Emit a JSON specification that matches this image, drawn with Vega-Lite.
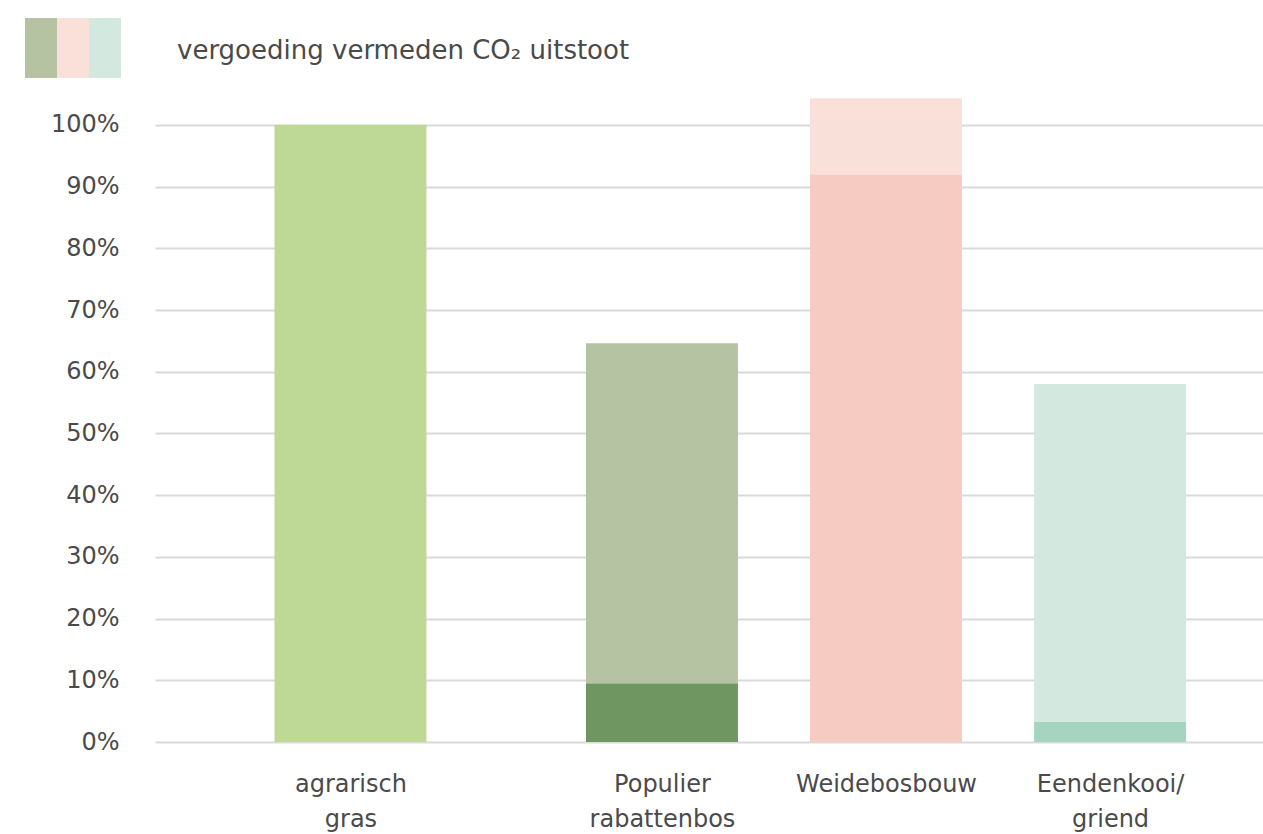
{
  "$schema": "https://vega.github.io/schema/vega-lite/v6.json",
  "width": 1108,
  "height": 648,
  "autosize": {"type": "none"},
  "padding": {"left": 155, "top": 94, "right": 0, "bottom": 92},
  "background": "white",
  "config": {
    "view": {"stroke": null},
    "font": "DejaVu Sans",
    "axis": {"labelFont": "DejaVu Sans", "labelColor": "#4a4a4a", "labelFontSize": 24}
  },
  "data": {
    "values": [
      {"cat": "agrarisch gras", "pos": 0.85, "lo": 0, "hi": 100, "seg": "agrarisch"},
      {"cat": "Populier rabattenbos", "pos": 2.24, "lo": 0, "hi": 9.5, "seg": "Populier basis"},
      {"cat": "Populier rabattenbos", "pos": 2.24, "lo": 9.5, "hi": 64.6, "seg": "Populier CO2"},
      {"cat": "Weidebosbouw", "pos": 3.24, "lo": 0, "hi": 92, "seg": "Weide basis"},
      {"cat": "Weidebosbouw", "pos": 3.24, "lo": 92, "hi": 104.3, "seg": "Weide CO2"},
      {"cat": "Eendenkooi/griend", "pos": 4.24, "lo": 0, "hi": 3.3, "seg": "Eenden basis"},
      {"cat": "Eendenkooi/griend", "pos": 4.24, "lo": 3.3, "hi": 58, "seg": "Eenden CO2"}
    ]
  },
  "mark": {"type": "bar", "size": 152},
  "encoding": {
    "x": {
      "field": "pos",
      "type": "quantitative",
      "scale": {"domain": [0, 4.9], "nice": false, "zero": false},
      "axis": {
        "title": null,
        "values": [0.85, 2.24, 3.24, 4.24],
        "labelExpr": "datum.value < 1.5 ? ['agrarisch', 'gras'] : datum.value < 3 ? ['Populier', 'rabattenbos'] : datum.value < 4 ? ['Weidebosbouw'] : ['Eendenkooi/', 'griend']",
        "domain": false,
        "ticks": false,
        "grid": false,
        "labelPadding": 42,
        "labelBaseline": "middle",
        "labelLineHeight": 35,
        "labelLimit": 400,
        "labelOverlap": false
      }
    },
    "y": {
      "field": "lo",
      "type": "quantitative",
      "scale": {"domain": [0, 105], "nice": false},
      "axis": {
        "title": null,
        "values": [0, 10, 20, 30, 40, 50, 60, 70, 80, 90, 100],
        "labelExpr": "datum.value + '%'",
        "domain": false,
        "ticks": false,
        "grid": true,
        "gridColor": "#dadada",
        "gridWidth": 2,
        "labelPadding": 36
      }
    },
    "y2": {"field": "hi"},
    "color": {
      "field": "seg",
      "type": "nominal",
      "scale": {
        "domain": ["agrarisch", "Populier basis", "Populier CO2", "Weide basis", "Weide CO2", "Eenden basis", "Eenden CO2"],
        "range": ["#bed896", "#6f9660", "#b5c3a2", "#f6cbc1", "#f9e1da", "#a5d4c1", "#d3e9df"]
      },
      "legend": {
        "values": ["Populier CO2", "Weide CO2", "Eenden CO2"],
        "title": null,
        "orient": "none",
        "direction": "horizontal",
        "columns": 3,
        "columnPadding": 0,
        "legendX": -130,
        "legendY": -62,
        "symbolType": "M-1,-1.875L1,-1.875L1,1.875L-1,1.875Z",
        "symbolSize": 1024,
        "symbolStrokeWidth": 0,
        "symbolOpacity": 1,
        "labelExpr": "datum.value == 'Eenden CO2' ? 'vergoeding vermeden CO₂ uitstoot' : ''",
        "labelFont": "DejaVu Sans",
        "labelFontSize": 26,
        "labelColor": "#4a4a4a",
        "labelOffset": 0,
        "labelLimit": 700,
        "padding": 0,
        "encode": {
          "labels": {
            "update": {
              "dx": {"signal": "datum.value == 'Eenden CO2' ? 56 : 0"},
              "dy": {"value": 3}
            }
          }
        }
      }
    }
  }
}
